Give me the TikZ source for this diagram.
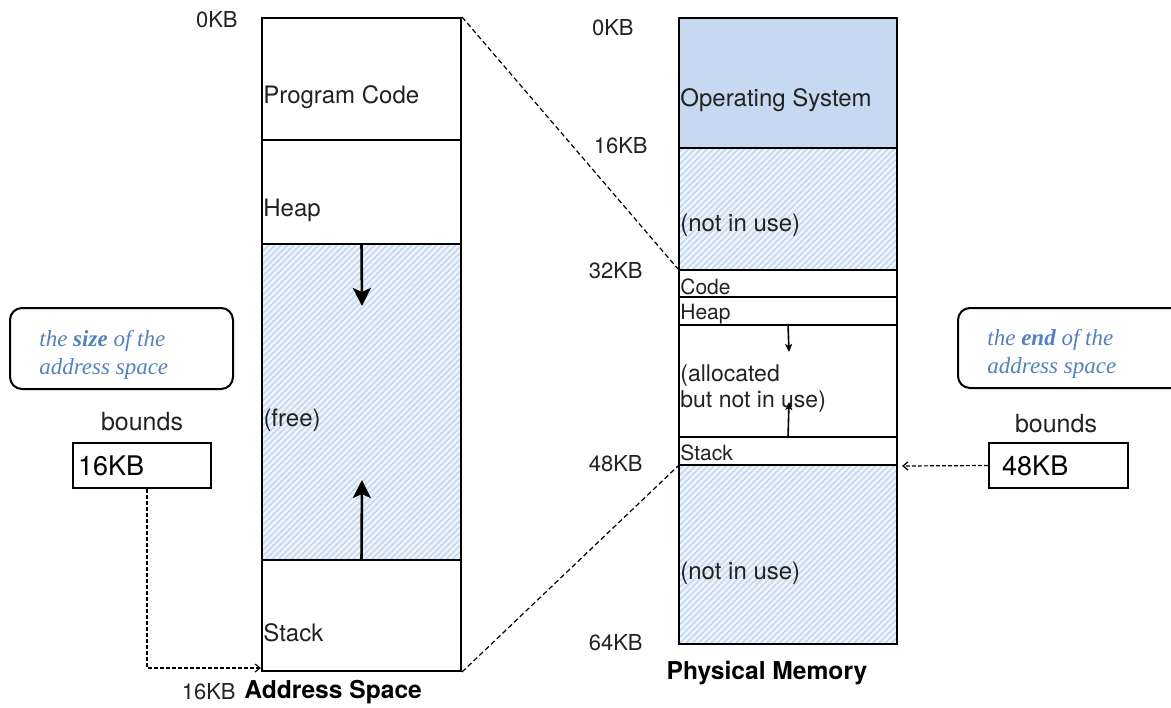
\documentclass[tikz,border=0pt]{standalone}
\usepackage{fontspec}
\setmainfont{TeX Gyre Heros}
\newfontfamily\notefont{Liberation Serif}
\usetikzlibrary{arrows.meta, positioning, fit, patterns.meta}
\definecolor{osblue}{RGB}{198, 217, 240}
\definecolor{hatchbg}{RGB}{240, 245, 251}
\definecolor{hatchline}{RGB}{200, 218, 240}
\definecolor{noteblue}{RGB}{84, 130, 190}
\definecolor{inkgray}{RGB}{34, 34, 34}

\begin{document}
\begin{tikzpicture}[x=0.5pt, y=-0.5pt,
    font=\fontsize{12}{14}\selectfont, text=inkgray,
    seg/.style={draw, line width=1pt, inner sep=0pt},
    freeseg/.style={seg, preaction={fill=hatchbg},
      pattern={Lines[angle=45, distance=2.2pt, line width=0.9pt]}, pattern color=hatchline},
    segtext/.style={anchor=west, inner sep=1pt},
    smalltext/.style={segtext, font=\fontsize{10.5}{12}\selectfont},
    kblabel/.style={anchor=east, inner sep=1pt, font=\fontsize{11}{13}\selectfont},
    title/.style={inner sep=1pt, font=\bfseries\fontsize{12.3}{14}\selectfont, text=black},
    bigarrow/.style={line width=1.3pt, -{Stealth[length=9pt, width=9pt, inset=2pt]}},
    smallarrow/.style={line width=0.8pt, -{Stealth[length=4pt, width=3.5pt, inset=1pt]}},
    mapline/.style={line width=0.6pt, dash pattern=on 2.5pt off 1.5pt},
    boundarrow/.style={line width=0.6pt, dash pattern=on 2pt off 1pt, -{Straight Barb[length=2.5pt, width=4pt]}},
    boundbox/.style={draw, line width=1.2pt, inner sep=0pt},
    note/.style={draw, line width=1pt, rounded corners=6pt, inner sep=0pt},
    notetext/.style={anchor=west, inner sep=0pt, align=left, text=noteblue,
      font=\notefont\itshape\fontsize{11.5}{14}\selectfont}]
  \clip (0,0) rectangle (1171,707);

  % address space
  \node[seg, fit={(262,18) (461,140)}] (acode) {};
  \node[seg, fit={(262,140) (461,244)}] (aheap) {};
  \node[freeseg, fit={(262,244) (461,560)}] (afree) {};
  \node[seg, fit={(262,560) (461,671)}] (astack) {};
  \node[segtext] at ([yshift=-9pt]acode.west) {Program Code};
  \node[segtext] at ([yshift=-9pt]aheap.west) {Heap};
  \node[segtext] at ([yshift=-9pt]afree.west) {(free)};
  \node[segtext] at ([yshift=-8.5pt]astack.west) {Stack};

  \coordinate (heapgrow) at (362,306);
  \coordinate (stackgrow) at (362,480);
  \draw[bigarrow] (afree.north) -- (heapgrow);
  \draw[bigarrow] (afree.south) -- (stackgrow);

  \node[kblabel] (a0) at (240,20) {0KB};
  \node[title, anchor=west] (atitle) at (242,692) {Address Space};
  \node[kblabel, left=2pt of atitle] (a16) {16KB};

  % physical memory
  \node[seg, fill=osblue, fit={(679,18) (897,148)}] (pos) {};
  \node[freeseg, fit={(679,148) (897,270)}] (pfree1) {};
  \node[seg, fit={(679,270) (897,297)}] (pcode) {};
  \node[seg, fit={(679,297) (897,325)}] (pheap) {};
  \node[seg, fit={(679,325) (897,437)}] (palloc) {};
  \node[seg, fit={(679,437) (897,465)}] (pstack) {};
  \node[freeseg, fit={(679,465) (897,644)}] (pfree2) {};
  \node[segtext] at ([yshift=-8.5pt]pos.west) {Operating System};
  \node[segtext] at ([yshift=-8pt]pfree1.west) {(not in use)};
  \node[smalltext] at ([yshift=-1.5pt]pcode.west) {Code};
  \node[smalltext] at ([yshift=-1.5pt]pheap.west) {Heap};
  \node[segtext, align=left, font=\fontsize{11.5}{13}\selectfont] at ([yshift=-4pt]palloc.west) {(allocated\\but not in use)};
  \node[smalltext] at ([yshift=-1pt]pstack.west) {Stack};
  \node[segtext] at ([yshift=-9.5pt]pfree2.west) {(not in use)};

  \coordinate (pheapgrow) at (789,352);
  \coordinate (pstackgrow) at (789,402);
  \draw[smallarrow] (palloc.north) -- (pheapgrow);
  \draw[smallarrow] (palloc.south) -- (pstackgrow);

  \node[kblabel] (p0) at (636,28) {0KB};
  \node[kblabel] (p16) at (650,146) {16KB};
  \node[kblabel] (p32) at (645,271) {32KB};
  \node[kblabel] (p48) at (645,464) {48KB};
  \node[kblabel] (p64) at (645,643) {64KB};
  \node[title] (ptitle) at (767,673) {Physical Memory};

  % where the address space sits
  \draw[mapline] (acode.north east) -- (pcode.north west);
  \draw[mapline] (astack.south east) -- (pstack.south west);

  % size note and bounds register
  \node[note, fit={(10,308) (233,389)}] (sizenote) {};
  \node[notetext] at ([xshift=15pt, yshift=-3pt]sizenote.west) {the \textbf{size} of the\\address space};
  \node[font=\fontsize{12.5}{14}\selectfont] (sbounds) at (142,422) {bounds};
  \node[boundbox, fit={(73,443) (211,488)}] (bsize) {};
  \node[segtext, font=\fontsize{13.5}{15}\selectfont, text=black] at ([xshift=2pt]bsize.west) {16KB};
  \draw[boundarrow] ([xshift=2.5pt]bsize.south) |- ([yshift=2pt]astack.south west);

  % end note and bounds register
  \node[note, fit={(958,308) (1200,388)}] (endnote) {};
  \node[notetext] at ([xshift=15pt, yshift=-3pt]endnote.west) {the \textbf{end} of the\\address space};
  \node[font=\fontsize{12.5}{14}\selectfont] (ebounds) at (1056,424) {bounds};
  \node[boundbox, fit={(989,443) (1128,488)}] (bend) {};
  \node[segtext, font=\fontsize{13.5}{15}\selectfont, text=black] at ([xshift=6pt]bend.west) {48KB};
  \draw[boundarrow] (bend.west) -- ([xshift=2pt]pstack.south east);
\end{tikzpicture}
\end{document}
